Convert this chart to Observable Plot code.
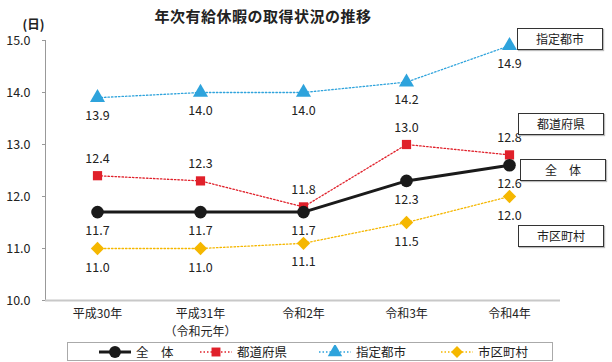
<!DOCTYPE html>
<html>
<head>
<meta charset="utf-8">
<script src="https://cdn.jsdelivr.net/npm/d3@7"></script>
<script src="https://cdn.jsdelivr.net/npm/@observablehq/plot@0.6"></script>
<style>
  html, body { margin: 0; padding: 0; background: #fff; }
  body { width: 612px; height: 362px; overflow: hidden; font-family: "Noto Sans CJK JP", "Noto Sans", sans-serif; color: #222; }
  #wrap { position: relative; width: 612px; height: 362px; }
  #title { position: absolute; left: 0; top: 5px; width: 526px; text-align: center; font-size: 15px; font-weight: bold; letter-spacing: 0.5px; z-index: 2; }
  #chart { position: absolute; left: 0; top: 0; }
  .box { position: absolute; width: 84px; height: 20px; border: 1px solid #333; box-shadow: 1px 1px 1px #bbb; background: #fff; font-size: 12px; line-height: 20px; text-align: center; }
  #legend { position: absolute; left: 67px; top: 342px; width: 484px; height: 17px; border: 1px solid #aaa; }
  .li { position: absolute; top: 0; height: 17px; font-size: 12.5px; line-height: 17px; display: flex; align-items: center; }
  .li svg { margin-right: 4px; }
</style>
</head>
<body>
<div id="wrap">
  <div id="title">年次有給休暇の取得状況の推移</div>
  <div id="chart"></div>
  <div id="boxes"></div>
  <div id="legend"></div>
</div>
<script>
// ---- data ----
const years = ["平成30年", "平成31年", "令和2年", "令和3年", "令和4年"];
const yearsSub = ["", "（令和元年）", "", "", ""];
const seriesNames = ["全　体", "都道府県", "指定都市", "市区町村"];
const zentai = [11.7, 11.7, 11.7, 12.3, 12.6];
const todofuken = [12.4, 12.3, 11.8, 13.0, 12.8];
const shitei = [13.9, 14.0, 14.0, 14.2, 14.9];
const shikuchoson = [11.0, 11.0, 11.1, 11.5, 12.0];
const yTicks = [10, 11, 12, 13, 14, 15];

const valuesBySeries = [zentai, todofuken, shitei, shikuchoson];
const colors = ["#1a1a1a", "#e0202a", "#2ea3dc", "#f5b700"];
const symbols = ["circle", "square", "triangle", "diamond2"];
const labelDy = [19, -17, 18, 19];

const rows = [];
valuesBySeries.forEach((vals, si) => {
  vals.forEach((v, i) => rows.push({series: seriesNames[si], year: years[i], value: v}));
});
const of = (s) => rows.filter(d => d.series === s);
const subRows = years.map((y, i) => ({year: y, sub: yearsSub[i]})).filter(d => d.sub);

const marks = [
  Plot.axisY({ticks: yTicks, tickFormat: d => d.toFixed(1), tickSize: 3, tickPadding: 12, stroke: "#999", fontSize: 12.5, label: null}),
  Plot.axisX({ticks: [], tickSize: 0, label: null}),
  Plot.text(years, {x: d => d, frameAnchor: "bottom", lineAnchor: "top", dy: 9, fontSize: 12, fill: "#222"}),
  Plot.text(subRows, {x: "year", text: "sub", frameAnchor: "bottom", lineAnchor: "top", dy: 27, fontSize: 12, fill: "#222"}),
  Plot.frame({anchor: "left", stroke: "#999"}),
  Plot.ruleY([10], {stroke: "#c8c8c8", strokeWidth: 2}),
  Plot.text(["(日)"], {frameAnchor: "top-left", dx: -23, dy: -20, fontWeight: "bold", fontSize: 12.5})
];
// lines
seriesNames.forEach((s, si) => {
  if (si === 0) {
    marks.push(Plot.line(of(s), {x: "year", y: "value", stroke: colors[si], strokeWidth: 3}));
  } else {
    marks.push(Plot.line(of(s), {x: "year", y: "value", stroke: colors[si], strokeWidth: 1.3, strokeDasharray: "1.5,2"}));
  }
});
// symbols
const sizes = [6.3, 5.2, 5.6, 6];
[1, 2, 3, 0].forEach(si => {
  const s = seriesNames[si];
  marks.push(Plot.dot(of(s), {x: "year", y: "value", symbol: () => symbols[si], fill: colors[si], r: sizes[si], stroke: "none"}));
});
// labels
seriesNames.forEach((s, si) => {
  marks.push(Plot.text(of(s), {x: "year", y: "value", text: d => d.value.toFixed(1), dy: labelDy[si], fontSize: 12.5, fill: "#222"}));
});

const chart = Plot.plot({
  width: 612,
  height: 338,
  marginTop: 40,
  marginBottom: 38,
  marginLeft: 45,
  marginRight: 52,
  style: {fontFamily: "'Noto Sans CJK JP', 'Noto Sans', sans-serif", color: "#222", background: "transparent", overflow: "visible"},
  x: {type: "point", domain: years, padding: 0.5},
  y: {domain: [10, 15]},
  symbol: {type: "identity"},
  marks
});
document.getElementById("chart").appendChild(chart);

// series label boxes at right
const boxTops = {"指定都市": 28, "都道府県": 113, "全　体": 159, "市区町村": 225};
const boxLefts = {"指定都市": 517, "都道府県": 518, "全　体": 520, "市区町村": 518};
const boxes = document.getElementById("boxes");
seriesNames.forEach(s => {
  const b = document.createElement("div");
  b.className = "box";
  b.style.left = boxLefts[s] + "px";
  b.style.top = boxTops[s] + "px";
  b.textContent = s;
  boxes.appendChild(b);
});

// legend
const legend = document.getElementById("legend");
const legendLefts = [30, 131, 250, 372];
seriesNames.forEach((s, si) => {
  const item = document.createElement("div");
  item.className = "li";
  item.style.left = legendLefts[si] + "px";
  const sv = d3.create("svg").attr("width", 34).attr("height", 14);
  sv.append("line").attr("x1", 1).attr("x2", 33).attr("y1", 7).attr("y2", 7)
    .attr("stroke", colors[si]).attr("stroke-width", si === 0 ? 3 : 1.3)
    .attr("stroke-dasharray", si === 0 ? null : "1.5,2");
  const sym = {circle: d3.symbolCircle, square: d3.symbolSquare, triangle: d3.symbolTriangle, diamond2: d3.symbolDiamond2}[symbols[si]];
  const area = si === 0 ? 110 : si === 1 ? 80 : 90;
  sv.append("path").attr("d", d3.symbol(sym, area)()).attr("transform", "translate(17,7)").attr("fill", colors[si]);
  item.appendChild(sv.node());
  const t = document.createElement("span");
  t.textContent = s;
  item.appendChild(t);
  legend.appendChild(item);
});
</script>
</body>
</html>
